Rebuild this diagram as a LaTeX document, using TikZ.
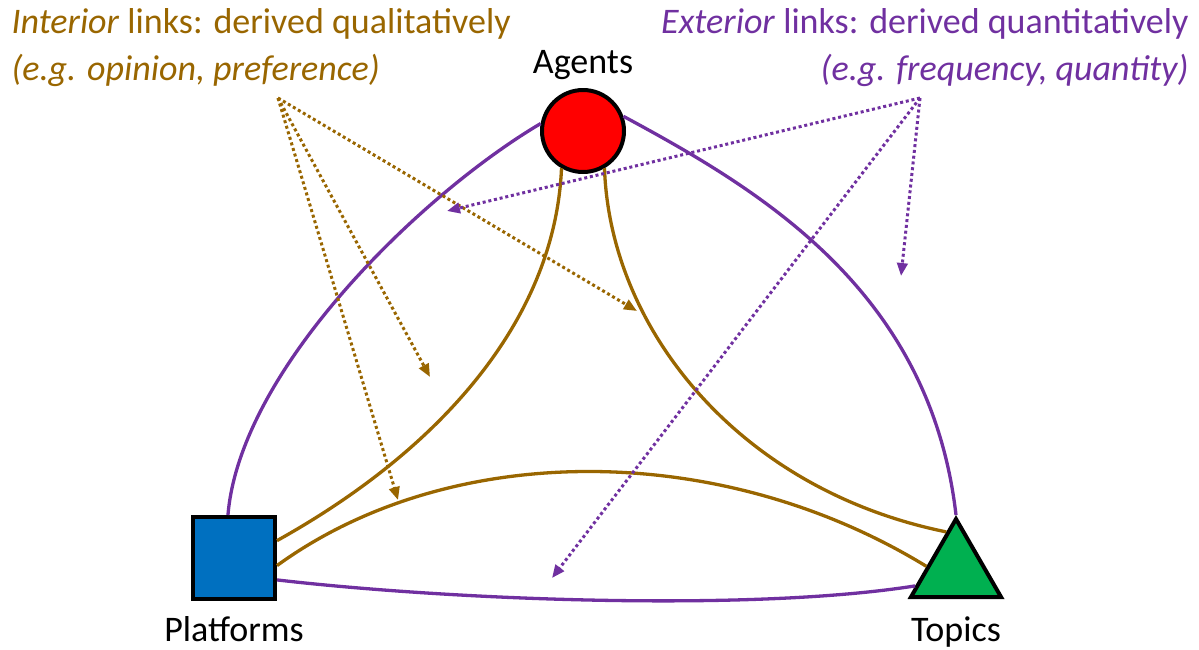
\documentclass[tikz,border=0pt]{standalone}
\usepackage{fontspec}
\setmainfont{Carlito}
\definecolor{intbrown}{RGB}{153,102,0}
\definecolor{extpurple}{RGB}{112,48,160}
\definecolor{agentred}{RGB}{255,0,0}
\definecolor{platblue}{RGB}{0,112,192}
\definecolor{topicgreen}{RGB}{0,176,80}
\usetikzlibrary{arrows.meta,shapes.geometric}

\begin{document}
\begin{tikzpicture}[x=1pt,y=-1pt,font=\fontsize{36}{43}\selectfont,
    intlink/.style={intbrown,line width=3.3pt},
    extlink/.style={extpurple,line width=3.3pt},
    intarrow/.style={intbrown,line width=3pt,dash pattern=on 3pt off 2.8pt,-{Triangle[length=13pt,width=10.5pt]}},
    extarrow/.style={extpurple,line width=3pt,dash pattern=on 3pt off 2.8pt,-{Triangle[length=13pt,width=10.5pt]}}]
        \useasboundingbox (0,0) rectangle (1199,649);
        % the three kinds of entity
        \node[circle,draw=black,line width=4pt,fill=agentred,minimum size=82pt,inner sep=0pt] (ag) at (583,131) {};
        \node[draw=black,line width=4pt,fill=platblue,minimum size=82pt,inner sep=0pt] (pl) at (234,558) {};
        \node[regular polygon,regular polygon sides=3,draw=black,line width=4pt,fill=topicgreen,minimum size=104pt,inner sep=0pt] (tp) at (956,571) {};
        \node[anchor=base] (agl) at (583,73) {Agents};
        \node[anchor=base] (pll) at (234,641) {Platforms};
        \node[anchor=base] (tpl) at (956,641) {Topics};
        % exterior links
        \draw[extlink] (ag.170) .. controls (420,195) and (240,370) .. (pl.98);
        \draw[extlink] (ag.20) .. controls (760,190) and (930,290) .. (tp.north);
        \draw[extlink] (pl.-27) .. controls (450,600) and (750,612) .. (tp.200);
        % interior links
        \draw[intlink] (ag.-120) .. controls (555,320) and (440,450) .. (pl.22);
        \draw[intlink] (ag.-60) .. controls (610,330) and (740,490) .. (tp.104);
        \draw[intlink] (pl.-10) .. controls (450,440) and (720,440) .. (tp.171);
        % captions and pointers
        \node[anchor=base west,intbrown] (intl1) at (8,33) {\textit{Interior} links: derived qualitatively};
        \node[anchor=base west,intbrown] (intl2) at (8,80) {\textit{(e.g. opinion, preference)}};
        \node[anchor=base east,extpurple] (extl1) at (1192,33) {\textit{Exterior} links: derived quantitatively};
        \node[anchor=base east,extpurple] (extl2) at (1192,80) {\textit{(e.g. frequency, quantity)}};
        \coordinate (isrc) at (278,98);
        \coordinate (esrc) at (920,98);
        \coordinate (it1) at (430,377);
        \coordinate (it2) at (398,500);
        \coordinate (it3) at (637,311);
        \coordinate (et1) at (447,211);
        \coordinate (et2) at (901,276);
        \coordinate (et3) at (552,578);
        \draw[intarrow] (isrc) -- (it1);
        \draw[intarrow] (isrc) -- (it2);
        \draw[intarrow] (isrc) -- (it3);
        \draw[extarrow] (esrc) -- (et1);
        \draw[extarrow] (esrc) -- (et2);
        \draw[extarrow] (esrc) -- (et3);
\end{tikzpicture}
\end{document}
